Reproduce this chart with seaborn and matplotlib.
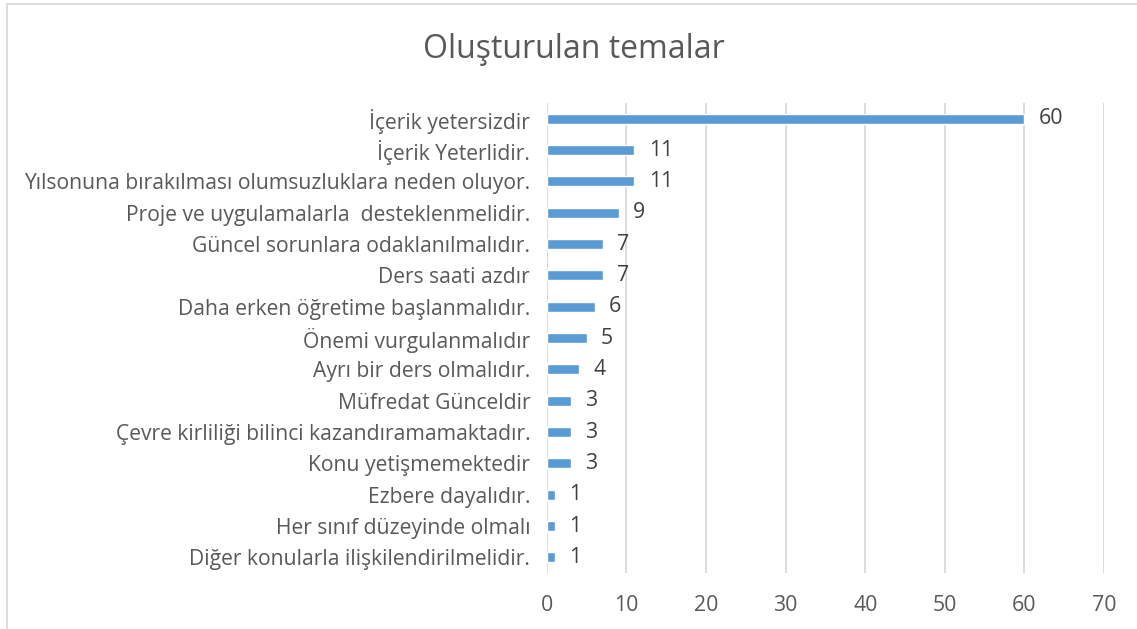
import matplotlib
matplotlib.use('Agg')
import matplotlib.pyplot as plt
import seaborn as sns
import pandas as pd
from matplotlib.patches import Rectangle

# data
themes = [
    'İçerik yetersizdir',
    'İçerik Yeterlidir.',
    'Yılsonuna bırakılması olumsuzluklara neden oluyor.',
    'Proje ve uygulamalarla  desteklenmelidir.',
    'Güncel sorunlara odaklanılmalıdır.',
    'Ders saati azdır',
    'Daha erken öğretime başlanmalıdır.',
    'Önemi vurgulanmalıdır',
    'Ayrı bir ders olmalıdır.',
    'Müfredat Günceldir',
    'Çevre kirliliği bilinci kazandıramamaktadır.',
    'Konu yetişmemektedir',
    'Ezbere dayalıdır.',
    'Her sınıf düzeyinde olmalı',
    'Diğer konularla ilişkilendirilmelidir.',
]
counts = [60, 11, 11, 9, 7, 7, 6, 5, 4, 3, 3, 3, 1, 1, 1]
x_ticks = [0, 10, 20, 30, 40, 50, 60, 70]
title = 'Oluşturulan temalar'

df = pd.DataFrame({'tema': themes, 'n': counts})

sns.set_style('white')
plt.rcParams['font.family'] = ['Open Sans', 'DejaVu Sans']

fig = plt.figure(figsize=(11.37, 6.29), dpi=100)
ax = fig.add_axes([0.481, 0.089, 0.490, 0.747])

sns.barplot(data=df, x='n', y='tema', orient='h', color='#5b9bd5',
            saturation=1, width=0.32, ax=ax)

for i, v in enumerate(counts):
    ax.text(v + 1.8, i, str(v), va='center', ha='left', fontsize=15.3, color='#404040')

ax.set_xlim(0, 70)
ax.set_ylim(14.5, -0.5)
ax.set_xticks(x_ticks)
ax.xaxis.grid(True, color='#d9d9d9', linewidth=1.3)
ax.set_axisbelow(True)
for s in ax.spines.values():
    s.set_visible(False)
ax.tick_params(axis='x', length=0, pad=16, labelsize=15.3, labelcolor='#595959')
ax.tick_params(axis='y', length=0, pad=12, labelsize=15.2, labelcolor='#595959')
ax.set_xlabel('')
ax.set_ylabel('')

fig.text(0.505, 0.922, title, ha='center', va='center', fontsize=23, color='#595959')

# chart border (only left and top are visible in the crop)
fig.patches.append(Rectangle((7 / 1137, -0.2), 1.2, 1.2 - 4 / 629,
                             transform=fig.transFigure, fill=False,
                             edgecolor='#d9d9d9', linewidth=1.3))

fig.savefig('out.png', dpi=100)
